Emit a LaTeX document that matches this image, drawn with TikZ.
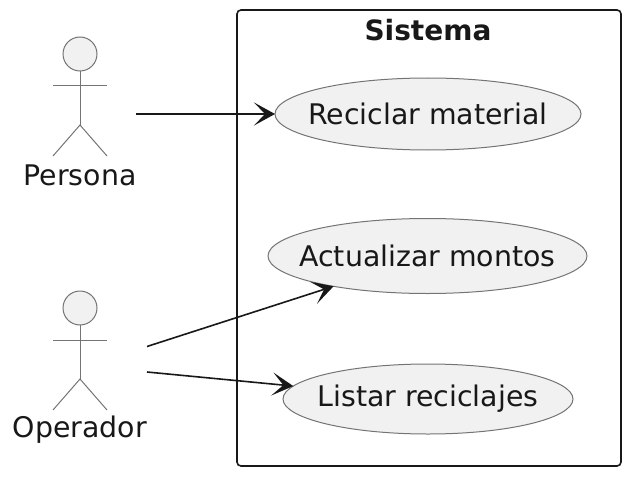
\documentclass[tikz,border=0pt]{standalone}
\usepackage{fontspec}
\setmainfont{DejaVu Sans}
\usetikzlibrary{arrows.meta,shapes.geometric}
\definecolor{umlfill}{HTML}{F1F1F1}
\definecolor{umlline}{HTML}{181818}
\tikzset{
    usecase/.style={draw=umlline!60, line width=1pt, fill=umlfill, ellipse, inner xsep=-40pt, inner ysep=0pt, outer sep=0pt, font=\fontsize{28.4}{28.4}\selectfont, text=umlline},
    actorhead/.style={draw=umlline!60, line width=1pt, fill=umlfill, circle, inner sep=0pt, outer sep=0pt, minimum size=34pt},
    actorline/.style={draw=umlline!60, line width=1pt},
    actorname/.style={font=\fontsize{28.4}{28.4}\selectfont, text=umlline, inner sep=0pt},
    umlarrow/.style={draw=umlline, line width=1.6pt, -{Stealth[length=21pt, width=23pt, inset=11pt]}},
}
\begin{document}
\begin{tikzpicture}[x=1pt, y=-1pt]
    \useasboundingbox (0,0) rectangle (631,476);
    \draw[umlline, line width=1.6pt, rounded corners=4pt] (237,10) rectangle (621,466);
    \node[font=\bfseries\fontsize{28}{28}\selectfont, text=umlline, inner sep=0pt] (sistema) at (428,30) {Sistema};

    \node[usecase, minimum width=306pt, minimum height=72pt] (reciclar) at (428,114) {Reciclar material};
    \node[usecase, minimum width=319pt, minimum height=75pt] (actualizar) at (427.5,256) {Actualizar montos};
    \node[usecase, minimum width=290pt, minimum height=70pt] (listar) at (428,399) {Listar reciclajes};

    % Persona
    \node[actorhead] (personahead) at (80,54) {};
    \coordinate (personahip) at (80,125);
    \coordinate (personaleft) at (53,156);
    \coordinate (personaright) at (107,156);
    \coordinate (personaarml) at (53,86);
    \coordinate (personaarmr) at (107,86);
    \draw[actorline] (personahead) -- (personahip);
    \draw[actorline] (personaarml) -- (personaarmr);
    \draw[actorline] (personaleft) -- (personahip) -- (personaright);
    \node[actorname] (persona) at (80,175) {Persona};

    % Operador
    \node[actorhead] (operadorhead) at (80,308) {};
    \coordinate (operadorhip) at (80,379);
    \coordinate (operadorleft) at (53,410);
    \coordinate (operadorright) at (107,410);
    \coordinate (operadorarml) at (53,340);
    \coordinate (operadorarmr) at (107,340);
    \draw[actorline] (operadorhead) -- (operadorhip);
    \draw[actorline] (operadorarml) -- (operadorarmr);
    \draw[actorline] (operadorleft) -- (operadorhip) -- (operadorright);
    \node[actorname] (operador) at (80,430) {Operador};

    \coordinate (personaout) at (136,114);
    \coordinate (operadorup) at (147,346.5);
    \coordinate (operadordown) at (147,372);
    \draw[umlarrow] (personaout) -- (reciclar);
    \draw[umlarrow] (operadorup) -- (actualizar);
    \draw[umlarrow] (operadordown) -- (listar);
\end{tikzpicture}
\end{document}
